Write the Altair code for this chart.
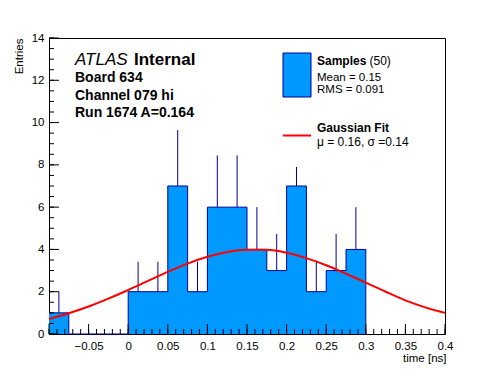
import altair as alt
import pandas as pd
import numpy as np

# Histogram bins (lower edges, upper edges) and entries
bin_lo = [-0.1, -0.075, -0.05, -0.025, 0.0, 0.025, 0.05, 0.075, 0.1, 0.125,
          0.15, 0.175, 0.2, 0.225, 0.25, 0.275]
bin_hi = [-0.075, -0.05, -0.025, 0.0, 0.025, 0.05, 0.075, 0.1, 0.125, 0.15,
          0.175, 0.2, 0.225, 0.25, 0.275, 0.3]
counts = [1, 0, 0, 0, 2, 2, 7, 2, 6, 6, 4, 3, 7, 2, 3, 4]

# Gaussian fit curve
fit_x = [-0.1, -0.075, -0.05, -0.025, 0.0, 0.025, 0.05, 0.075, 0.1, 0.125, 0.15,
         0.175, 0.2, 0.225, 0.25, 0.275, 0.3, 0.325, 0.35, 0.375, 0.4]
fit_y = [0.71, 0.98, 1.30, 1.67, 2.08, 2.51, 2.94, 3.33, 3.65, 3.88, 3.99,
         3.98, 3.84, 3.59, 3.25, 2.85, 2.43, 2.00, 1.59, 1.26, 1.00]

# Axis ticks
x_major = [-0.1, -0.05, 0.0, 0.05, 0.1, 0.15, 0.2, 0.25, 0.3, 0.35, 0.4]
x_labels = [-0.05, 0.0, 0.05, 0.1, 0.15, 0.2, 0.25, 0.3, 0.35, 0.4]
x_minor = [round(-0.1 + 0.01 * i, 2) for i in range(51)]
y_major = [0, 2, 4, 6, 8, 10, 12, 14]
y_minor = [0.5 * i for i in range(29)]

W, H = 396, 296
FONT = "Liberation Sans"
FILL = "#0099ff"
DARK = "#000099"

xs = alt.Scale(domain=[-0.1, 0.4], nice=False, zero=False)
ys = alt.Scale(domain=[0, 14], nice=False, zero=False)

xaxis = alt.Axis(values=x_labels, format=".2~f", ticks=False, domain=False, grid=False,
                 labelFont=FONT, labelFontSize=11.5, labelColor="black", labelPadding=6,
                 labelFlush=False, labelOverlap=False,
                 title="time [ns]", titleFont=FONT, titleFontSize=11.5, titleFontWeight="normal",
                 titleColor="black", titleX=W + 1, titleY=27, titleAlign="right",
                 titleBaseline="alphabetic")
yaxis = alt.Axis(values=y_major, format="d", ticks=False, domain=False, grid=False,
                 labelFont=FONT, labelFontSize=11.5, labelColor="black", labelPadding=5,
                 labelFlush=False, labelOverlap=False,
                 title="Entries", titleFont=FONT, titleFontSize=11.5, titleFontWeight="normal",
                 titleColor="black", titleAngle=270, titleX=-27, titleY=0, titleAlign="right",
                 titleBaseline="alphabetic")

hist = pd.DataFrame({"lo": bin_lo, "hi": bin_hi, "n": counts})
hist["mid"] = (hist["lo"] + hist["hi"]) / 2
hist["err_top"] = hist["n"] + np.sqrt(hist["n"])

outline = pd.DataFrame({"x": bin_lo + [bin_hi[-1]], "n": counts + [0]})
fit = pd.DataFrame({"x": fit_x, "y": fit_y})

fill = alt.Chart(outline).mark_area(color=FILL, opacity=1, interpolate="step-after").encode(
    x=alt.X("x:Q", scale=xs, axis=xaxis),
    y=alt.Y("n:Q", scale=ys, axis=yaxis),
    y2=alt.datum(0),
)

step = alt.Chart(outline).mark_line(color=DARK, strokeWidth=1, interpolate="step-after").encode(
    x=alt.X("x:Q", scale=xs, axis=xaxis),
    y=alt.Y("n:Q", scale=ys, axis=yaxis),
)

errs = alt.Chart(hist[hist["n"] > 0]).mark_rule(color=DARK, strokeWidth=1).encode(
    x=alt.X("mid:Q", scale=xs, axis=xaxis),
    y=alt.Y("n:Q", scale=ys, axis=yaxis),
    y2="err_top:Q",
)

curve = alt.Chart(fit).mark_line(color="#ff0000", strokeWidth=2, interpolate="monotone").encode(
    x=alt.X("x:Q", scale=xs, axis=xaxis),
    y=alt.Y("y:Q", scale=ys, axis=yaxis),
)

def xticks(vals, length):
    return alt.Chart(pd.DataFrame({"v": vals})).mark_rule(color="black", strokeWidth=1).encode(
        x=alt.X("v:Q", scale=xs, axis=xaxis),
        y=alt.value(H),
        y2=alt.value(H - length),
    )

def yticks(vals, length):
    return alt.Chart(pd.DataFrame({"v": vals})).mark_rule(color="black", strokeWidth=1).encode(
        y=alt.Y("v:Q", scale=ys, axis=yaxis),
        x=alt.value(0),
        x2=alt.value(length),
    )

def label(text, x, y, size=12, weight="normal", style="normal"):
    return alt.Chart(pd.DataFrame({"a": [0]})).mark_text(
        text=text, font=FONT, fontSize=size, fontWeight=weight, fontStyle=style,
        align="left", baseline="alphabetic", color="black",
    ).encode(x=alt.value(x), y=alt.value(y))

# legend background (white, covers what lies beneath it)
leg_bg = alt.Chart(pd.DataFrame({"a": [0]})).mark_rect(fill="white", strokeWidth=0).encode(
    x=alt.value(226), x2=alt.value(392), y=alt.value(6), y2=alt.value(129)
)

leg_box = alt.Chart(pd.DataFrame({"a": [0]})).mark_rect(
    fill=FILL, stroke=DARK, strokeWidth=1
).encode(x=alt.value(234), x2=alt.value(262), y=alt.value(15), y2=alt.value(59))

leg_line = alt.Chart(pd.DataFrame({"a": [0]})).mark_rule(
    color="#ff0000", strokeWidth=2
).encode(x=alt.value(234), x2=alt.value(262), y=alt.value(97.5))

layers = [
    fill, step, errs, leg_bg, curve,
    xticks(x_major, 10), xticks(x_minor, 5),
    yticks(y_major, 10), yticks(y_minor, 5),
    label("ATLAS", 26, 27, size=17, style="italic"),
    label("Internal", 85, 27, size=17, weight="bold"),
    label("Board 634", 26, 44, size=14, weight="bold"),
    label("Channel 079 hi", 26, 61.5, size=14, weight="bold"),
    label("Run 1674 A=0.164", 26, 79, size=14, weight="bold"),
    leg_box, leg_line,
    label("Samples", 268, 27, size=12, weight="bold"),
    label("(50)", 320.5, 27, size=12),
    label("Mean = 0.15", 268, 42.5, size=11.5),
    label("RMS = 0.091", 268, 55, size=11.5),
    label("Gaussian Fit", 268, 94, size=12, weight="bold"),
    label("\u03bc = 0.16, \u03c3 =0.14", 268, 108, size=12),
]

chart = alt.layer(*layers).properties(
    width=W, height=H,
    background="white",
    autosize=alt.AutoSizeParams(type="none"),
    padding={"left": 41, "top": 30, "right": 43, "bottom": 30},
).configure_view(stroke="black", strokeWidth=1)

chart.save("out.html", embed_options={"renderer": "svg", "actions": False})
